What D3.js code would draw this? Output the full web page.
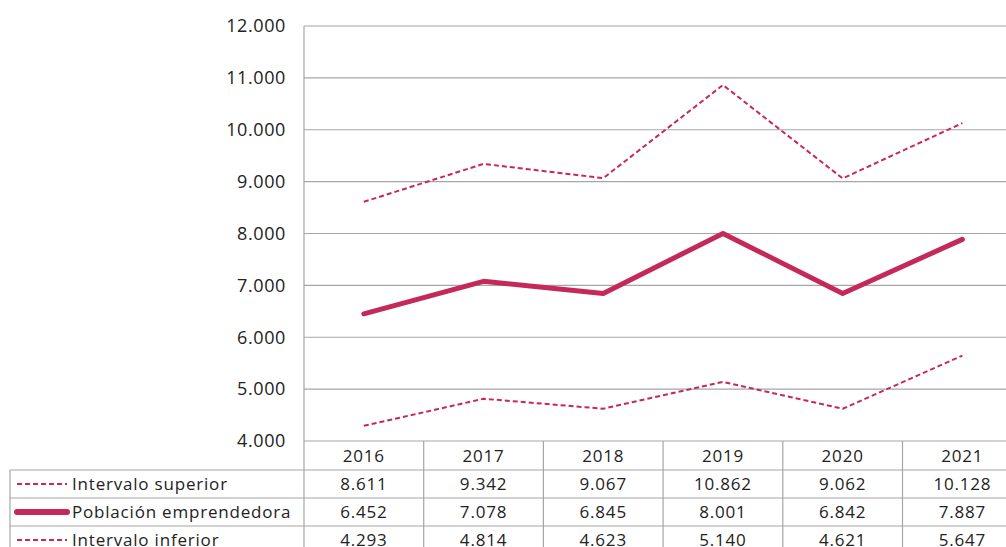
<!DOCTYPE html>
<html>
<head>
<meta charset="utf-8">
<script src="https://cdn.jsdelivr.net/npm/d3@7"></script>
<style>
  body { margin: 0; background: #fff; }
  svg text { font-family: "Open Sans", "Noto Sans", sans-serif; fill: #222; }
  .tbl { font-size: 17px; letter-spacing: 0.8px; }
</style>
</head>
<body>
<div id="graph"></div>
<script>
const years = ["2016", "2017", "2018", "2019", "2020", "2021"];
const superior = [8611, 9342, 9067, 10862, 9062, 10128];
const poblacion = [6452, 7078, 6845, 8001, 6842, 7887];
const inferior = [4293, 4814, 4623, 5140, 4621, 5647];
const yTicks = [4000, 5000, 6000, 7000, 8000, 9000, 10000, 11000, 12000];

const W = 1006, H = 547;
const plotLeft = 304, plotTop = 26, plotBottom = 441;
const colW = 119.7;
const rowH = 28;
const tableLeft = 10;
const color = "#c4295a";
const gridColor = "#a6a6a6";

let svg = d3.select("#graph").append("svg")
    .attr("width", W).attr("height", H);

let x = d3.scaleBand()
    .domain(years)
    .range([plotLeft, plotLeft + colW * years.length]);

let y = d3.scaleLinear()
    .domain([4000, 12000])
    .range([plotBottom, plotTop]);

const fmt = v => d3.format(",")(v).replace(/,/g, ".");

// gridlines
svg.append("g").selectAll("line").data(yTicks).enter().append("line")
    .attr("x1", plotLeft).attr("x2", W)
    .attr("y1", d => y(d)).attr("y2", d => y(d))
    .attr("stroke", gridColor).attr("stroke-width", 1.2);

// y labels
svg.append("g").selectAll("text").data(yTicks).enter().append("text")
    .attr("x", 286).attr("y", d => y(d))
    .attr("dy", "0.35em")
    .attr("text-anchor", "end")
    .style("font-size", "18px")
    .style("letter-spacing", "0.6px")
    .text(d => fmt(d));

// left axis line
svg.append("line")
    .attr("x1", plotLeft).attr("x2", plotLeft)
    .attr("y1", plotTop).attr("y2", H)
    .attr("stroke", gridColor).attr("stroke-width", 1.2);

// table
const rows = [
    {label: "Intervalo superior", values: superior, dash: "5,3", width: 2},
    {label: "Población emprendedora", values: poblacion, dash: null, width: 6},
    {label: "Intervalo inferior", values: inferior, dash: "5,3", width: 2}
];

let table = svg.append("g");
const tableTop = plotBottom + rowH + 1;

rows.forEach((r, i) => {
    table.append("line")
        .attr("x1", tableLeft).attr("x2", W)
        .attr("y1", tableTop + i * rowH).attr("y2", tableTop + i * rowH)
        .attr("stroke", gridColor).attr("stroke-width", 1.2);
});
years.forEach(yr => {
    table.append("line")
        .attr("x1", x(yr) + x.bandwidth()).attr("x2", x(yr) + x.bandwidth())
        .attr("y1", plotBottom).attr("y2", H)
        .attr("stroke", gridColor).attr("stroke-width", 1.2);
});
table.append("line")
    .attr("x1", tableLeft).attr("x2", tableLeft)
    .attr("y1", tableTop).attr("y2", H)
    .attr("stroke", gridColor).attr("stroke-width", 1.2);

// header years
table.selectAll(".yr").data(years).enter().append("text")
    .attr("class", "tbl")
    .attr("x", d => x(d) + x.bandwidth() / 2)
    .attr("y", plotBottom + rowH / 2 + 1)
    .attr("dy", "0.35em")
    .attr("text-anchor", "middle")
    .text(d => d);

rows.forEach((r, i) => {
    let cy = tableTop + i * rowH + rowH / 2;
    table.append("line")
        .attr("x1", 17).attr("x2", 67)
        .attr("y1", cy).attr("y2", cy)
        .attr("stroke", color)
        .attr("stroke-width", r.width)
        .attr("stroke-linecap", r.dash ? "butt" : "round")
        .attr("stroke-dasharray", r.dash);
    table.append("text")
        .attr("class", "tbl")
        .attr("x", 72).attr("y", cy)
        .attr("dy", "0.35em")
        .text(r.label);
    table.selectAll(".v" + i).data(r.values).enter().append("text")
        .attr("class", "tbl")
        .attr("x", (d, j) => x(years[j]) + x.bandwidth() / 2)
        .attr("y", cy)
        .attr("dy", "0.35em")
        .attr("text-anchor", "middle")
        .text(d => fmt(d));
});

// series lines
let line = d3.line()
    .x((d, i) => x(years[i]) + x.bandwidth() / 2)
    .y(d => y(d));

rows.forEach(r => {
    svg.append("path")
        .datum(r.values)
        .attr("d", line)
        .attr("fill", "none")
        .attr("stroke", color)
        .attr("stroke-width", r.dash ? 2 : 5)
        .attr("stroke-linecap", r.dash ? "butt" : "round")
        .attr("stroke-linejoin", "round")
        .attr("stroke-dasharray", r.dash);
});
</script>
</body>
</html>
